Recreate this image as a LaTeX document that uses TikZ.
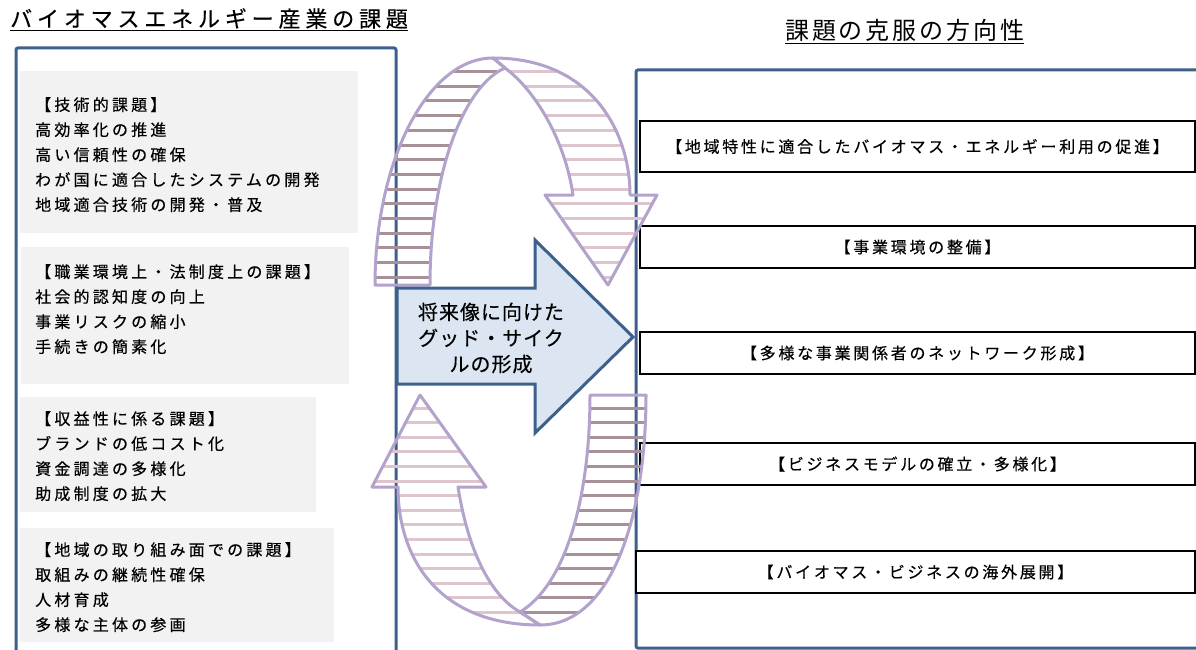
\documentclass[tikz,border=0pt]{standalone}
\usepackage{fontspec}
\setmainfont{Noto Sans CJK JP}
\newfontfamily\ttlfont{Noto Sans CJK JP}[LetterSpace=22, FakeBold=0.3]
\newfontfamily\ttlRfont{Noto Sans CJK JP}[LetterSpace=12]
\newfontfamily\itemfont{Noto Sans CJK JP}[LetterSpace=20, FakeBold=0.4]
\newfontfamily\dirfont{Noto Sans CJK JP}[LetterSpace=17, FakeBold=0.4]
\newfontfamily\cyclefont{Noto Sans CJK JP}[LetterSpace=5, FakeBold=0.4]

\definecolor{panelBlue}{RGB}{62,96,140}
\definecolor{arrowFill}{RGB}{220,230,242}
\definecolor{blockGray}{RGB}{242,242,242}
\definecolor{ringLine}{RGB}{178,162,204}
\definecolor{stripeDark}{RGB}{168,144,152}
\definecolor{stripeLight}{RGB}{222,196,206}

% outlines of the two bent arrows
\newcommand{\ringTopBack}{(375,285) .. controls (375,160) and (428,58) .. (493,58) -- (505,68) .. controls (465,85) and (430,170) .. (430,285) -- cycle}
\newcommand{\ringTopFront}{(493,58) .. controls (590,58) and (630,130) .. (630,195) -- (657,195) -- (608,285) -- (545,195) -- (573,195) .. controls (565,140) and (535,90) .. (505,68) -- cycle}
\newcommand{\ringLowFront}{(420,395) -- (486,487) -- (458,487) .. controls (468,550) and (490,595) .. (520,612) -- (540,625) .. controls (440,625) and (398,560) .. (398,487) -- (372,487) -- cycle}
\newcommand{\ringLowBack}{(590,395) -- (646,395) .. controls (646,520) and (610,625) .. (540,625) -- (520,612) .. controls (565,585) and (590,500) .. (590,395) -- cycle}

\begin{document}
\begin{tikzpicture}[x=1pt,y=-1pt,
        panel/.style={draw=panelBlue, line width=3pt, rounded corners=2pt},
        block/.style={rectangle, fill=blockGray, draw=none, anchor=north west, inner sep=0pt},
        items/.style={anchor=north west, inner sep=0pt, align=left, text=black, font=\itemfont\fontsize{16}{25}\selectfont},
        dirbox/.style={rectangle, draw=black, line width=1.2pt, fill=white, minimum width=555pt, minimum height=42pt, inner sep=0pt, font=\dirfont\fontsize{16}{20}\selectfont},
        ring/.style={draw=ringLine, line width=3pt, line join=round},
        stripe/.style={line width=3pt},
        goal/.style={draw=panelBlue, line width=3pt, fill=arrowFill, line join=miter}
    ]
        \clip (0,0) rectangle (1196,650);
        \fill[white] (0,0) rectangle (1196,650);

        % headings
        \node[anchor=base west, inner sep=0pt, font=\ttlfont\fontsize{22}{26}\selectfont] (issueTitle) at (10,27) {\underline{バイオマスエネルギー産業の課題}};
        \node[anchor=base west, inner sep=0pt, font=\ttlRfont\fontsize{24}{28}\selectfont] (wayTitle) at (785,40) {\underline{課題の克服の方向性}};

        % left panel
        \draw[panel] (16,48) rectangle (396,670);
        \node[block, minimum width=338pt, minimum height=162pt] (techBlock) at (20,71) {};
        \node[items] (techText) at ([xshift=15pt,yshift=-26pt]techBlock.north west) {【技術的課題】\\高効率化の推進\\高い信頼性の確保\\わが国に適合したシステムの開発\\地域適合技術の開発・普及};
        \node[block, minimum width=328pt, minimum height=137pt] (lawBlock) at (21,247) {};
        \node[items] (lawText) at ([xshift=14pt,yshift=-17pt]lawBlock.north west) {【職業環境上・法制度上の課題】\\社会的認知度の向上\\事業リスクの縮小\\手続きの簡素化};
        \node[block, minimum width=296pt, minimum height=115pt] (profitBlock) at (20,397) {};
        \node[items] (profitText) at ([xshift=15pt,yshift=-14pt]profitBlock.north west) {【収益性に係る課題】\\ブランドの低コスト化\\資金調達の多様化\\助成制度の拡大};
        \node[block, minimum width=314pt, minimum height=114pt] (localBlock) at (20,528) {};
        \node[items] (localText) at ([xshift=15pt,yshift=-14pt]localBlock.north west) {【地域の取り組み面での課題】\\取組みの継続性確保\\人材育成\\多様な主体の参画};

        % right panel
        \draw[panel] (636,70) rectangle (1215,648);
        \node[dirbox, minimum height=51pt] (dirLocal) at (917.5,146.5) {【地域特性に適合したバイオマス・エネルギー利用の促進】};
        \node[dirbox] (dirEnv) at (917.5,247) {【事業環境の整備】};
        \node[dirbox] (dirNet) at (917.5,353) {【多様な事業関係者のネットワーク形成】};
        \node[dirbox] (dirModel) at (917.5,464) {【ビジネスモデルの確立・多様化】};
        \node[dirbox, minimum width=559pt] (dirAbroad) at (915.5,572) {【バイオマス・ビジネスの海外展開】};

        % cycle arrows
        \begin{scope}
            \clip \ringTopBack;
            \foreach \y in {71.5,86.2,...,292} \draw[stripe, stripeDark] (360,\y) -- (520,\y);
        \end{scope}
        \begin{scope}
            \clip \ringTopFront;
            \foreach \y in {71.5,86.2,...,292} \draw[stripe, stripeLight] (480,\y) -- (670,\y);
        \end{scope}
        \begin{scope}
            \clip \ringLowFront;
            \foreach \y in {408,422.6,...,632} \draw[stripe, stripeLight] (360,\y) -- (550,\y);
        \end{scope}
        \begin{scope}
            \clip \ringLowBack;
            \foreach \y in {408,422.6,...,632} \draw[stripe, stripeDark] (510,\y) -- (660,\y);
        \end{scope}
        \draw[ring] \ringTopBack;
        \draw[ring] \ringTopFront;
        \draw[ring] \ringLowFront;
        \draw[ring] \ringLowBack;

        % central arrow
        \draw[goal] (397,288) -- (535,288) -- (535,240) -- (633,337) -- (535,433) -- (535,384) -- (397,384) -- cycle;
        \node[align=center, inner sep=0pt, font=\cyclefont\fontsize{20}{26}\selectfont] (goalText) at (491,338) {将来像に向けた\\グッド・サイク\\ルの形成};
    \end{tikzpicture}
\end{document}
